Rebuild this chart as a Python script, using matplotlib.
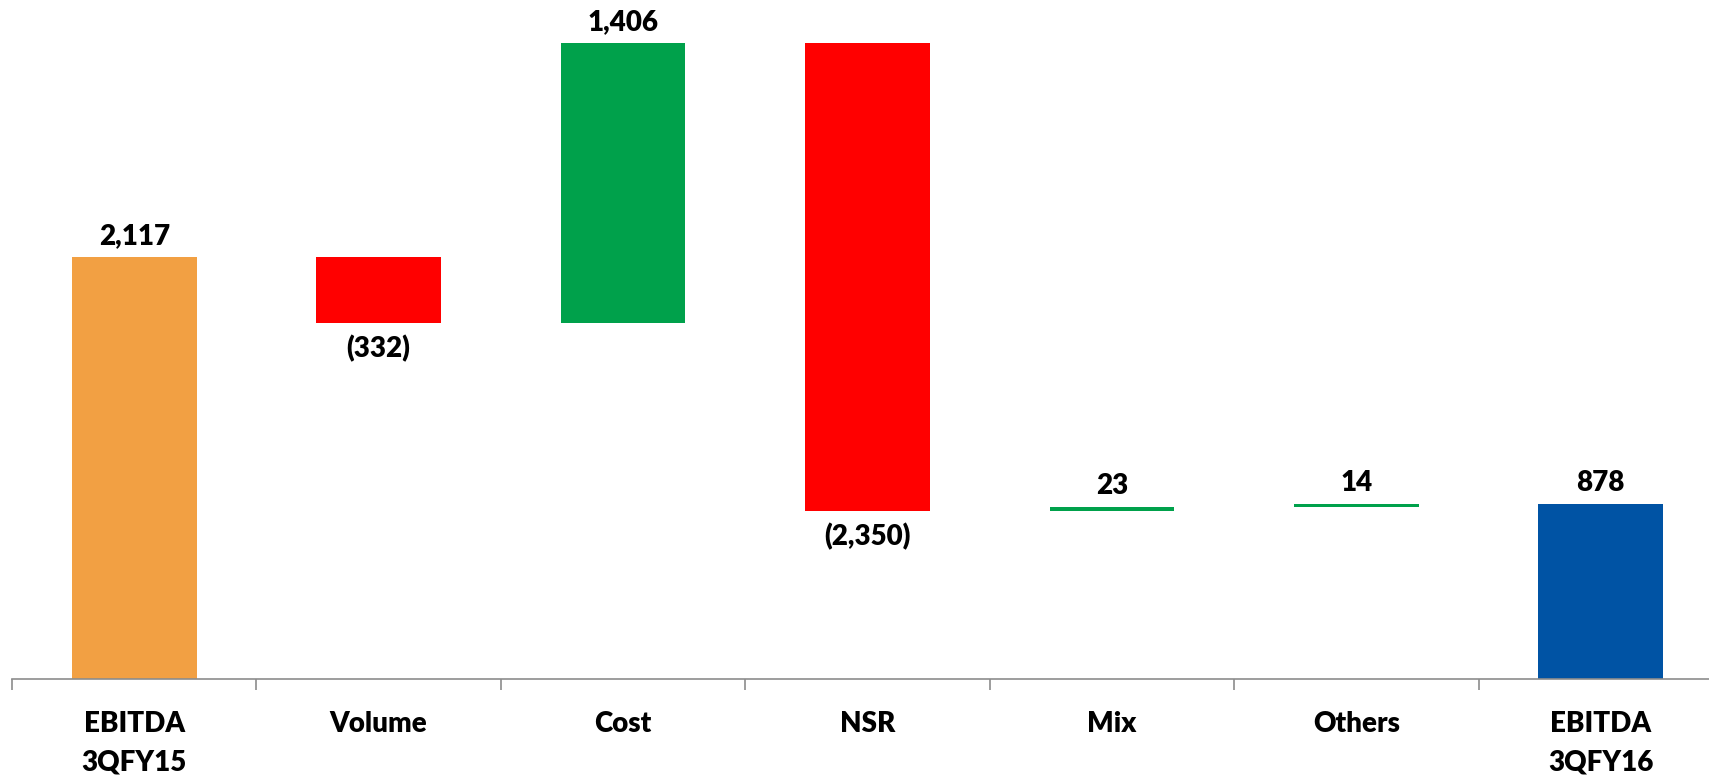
import matplotlib
matplotlib.use("Agg")
import matplotlib.pyplot as plt
import numpy as np

categories = ["EBITDA\n3QFY15", "Volume", "Cost", "NSR", "Mix", "Others", "EBITDA\n3QFY16"]
start_value = 2117
changes = [-332, 1406, -2350, 23, 14]
end_value = 878

ORANGE = "#F2A043"
RED = "#FF0000"
GREEN = "#00A14B"
BLUE = "#0053A4"

plt.rcParams["font.family"] = ["Lato", "DejaVu Sans"]

W, H = 1709, 775
fig = plt.figure(figsize=(W / 100, H / 100), dpi=100)
base_y = 679
ax = fig.add_axes([12 / W, (H - base_y) / H, 1711 / W, base_y / H])

x = np.arange(len(categories))
bar_w = 0.51

# running totals for the floating bars
levels = np.concatenate([[start_value], start_value + np.cumsum(changes)])
bottoms = [0]
heights = [start_value]
colors = [ORANGE]
for i, d in enumerate(changes):
    prev = levels[i]
    bottoms.append(min(prev, prev + d))
    heights.append(abs(d))
    colors.append(GREEN if d > 0 else RED)
bottoms.append(0)
heights.append(end_value)
colors.append(BLUE)

ax.bar(x, heights, bottom=bottoms, width=bar_w, color=colors, linewidth=0)

FS = 20
WT = "heavy"
values = [start_value] + changes + [end_value]
for xi, v, b, h in zip(x, values, bottoms, heights):
    if v < 0:
        ax.annotate(f"({abs(v):,})", (xi, b), xytext=(0, -12), textcoords="offset pixels",
                    ha="center", va="top", fontsize=FS, fontweight=WT)
    else:
        ax.annotate(f"{v:,}", (xi, b + h), xytext=(0, 8), textcoords="offset pixels",
                    ha="center", va="bottom", fontsize=FS, fontweight=WT)

ax.set_xlim(-0.5, len(categories) - 0.5)
ax.set_ylim(0, base_y / 0.1993)
ax.set_yticks([])
ax.set_xticks(x)
ax.set_xticklabels(categories, fontsize=FS, fontweight=WT, linespacing=1.6)
ax.set_xticks(np.arange(-0.5, len(categories), 1.0), minor=True)
ax.tick_params(axis="x", which="major", length=0, pad=23)
ax.tick_params(axis="x", which="minor", length=8, width=1.2, color="#8C8C8C", direction="out")
for s in ["left", "right", "top"]:
    ax.spines[s].set_visible(False)
ax.spines["bottom"].set_color("#8C8C8C")
ax.spines["bottom"].set_linewidth(1.2)
ax.patch.set_alpha(0)

fig.savefig("out.png", dpi=100)
